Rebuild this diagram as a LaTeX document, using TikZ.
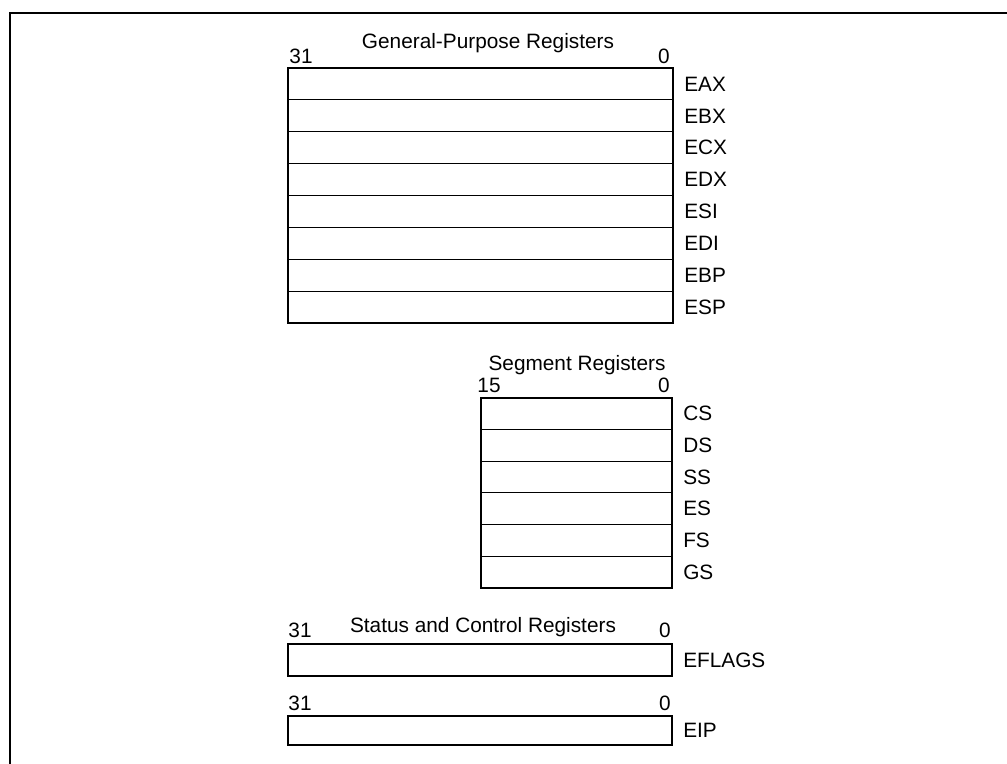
\documentclass[tikz,border=0pt]{standalone}
\usepackage{fontspec}
\setmainfont{Liberation Sans}
\usepackage{tikz}
\usetikzlibrary{positioning}

\begin{document}
\begin{tikzpicture}[
    x=0.75pt, y=-0.75pt,
    every node/.style={font=\fontsize{15.6pt}{18pt}\selectfont},
    regrow/.style={rectangle, draw, line width=0.75pt, inner sep=0pt, outer sep=0pt},
    outline/.style={line width=1.6pt},
    reglbl/.style={inner sep=0pt, anchor=west},
    txt/.style={inner sep=0pt, anchor=base},
    frame/.style={line width=2pt}
]
\useasboundingbox (0,0) rectangle (1007,764);
\draw[frame] (1007,13) -- (10,13) -- (10,764);

% general-purpose registers
\node[txt] (gptitle) at (488,48) {General-Purpose Registers};
\node[txt] (gphi) at (301,63) {31};
\node[txt] (gplo) at (664,63) {0};
\foreach \r [count=\i from 0] in {EAX,EBX,ECX,EDX,ESI,EDI,EBP,ESP} {
  \node[regrow, minimum width=288.75pt, minimum height=23.9pt] (gp\i) at (480.5,{84+31.875*\i}) {};
  \node[reglbl, right=8.25pt of gp\i] (gpname\i) {\r};
}
\draw[outline] (gp0.north west) rectangle (gp7.south east);

% segment registers
\node[txt] (segtitle) at (577,370) {Segment Registers};
\node[txt] (seghi) at (489,392) {15};
\node[txt] (seglo) at (664,392) {0};
\foreach \r [count=\i from 0] in {CS,DS,SS,ES,FS,GS} {
  \node[regrow, minimum width=143.25pt, minimum height=23.75pt] (seg\i) at (576.5,{413.8+31.67*\i}) {};
  \node[reglbl, right=8.25pt of seg\i] (segname\i) {\r};
}
\draw[outline] (seg0.north west) rectangle (seg5.south east);

% status and control registers
\node[txt] (sctitle) at (483,632) {Status and Control Registers};
\node[txt] (flhi) at (300,637) {31};
\node[txt] (fllo) at (665,637) {0};
\node[regrow, outline, minimum width=288pt, minimum height=24pt] (eflags) at (480,660) {};
\node[reglbl, right=8.25pt of eflags] (eflagsname) {EFLAGS};

\node[txt] (iphi) at (300,710) {31};
\node[txt] (iplo) at (665,710) {0};
\node[regrow, outline, minimum width=288pt, minimum height=21.75pt] (eip) at (480,730.5) {};
\node[reglbl, right=8.25pt of eip] (eipname) {EIP};
\end{tikzpicture}
\end{document}
